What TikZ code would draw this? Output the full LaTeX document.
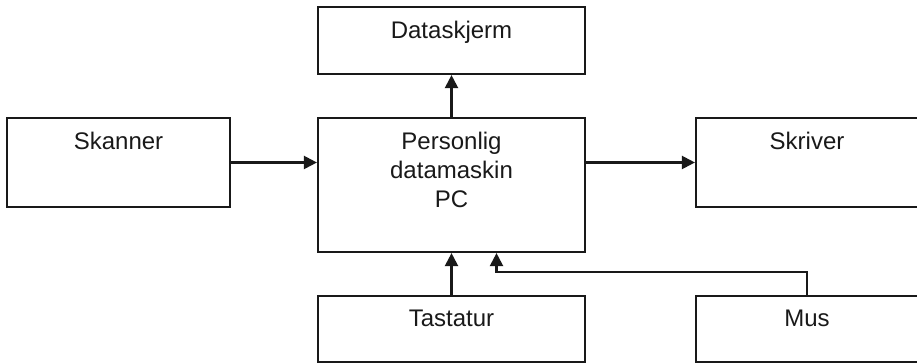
\documentclass[tikz,border=0pt]{standalone}
\usepackage{fontspec}
\setmainfont{Liberation Sans}
\usetikzlibrary{arrows.meta}

\begin{document}
\begin{tikzpicture}[x=1pt, y=1pt,
		unit/.style={draw=black!90, line width=2.2pt, minimum width=267pt, inner sep=0pt},
		unittext/.style={anchor=north, inner sep=0pt, yshift=-15pt, align=center, text=black!90,
			font=\fontsize{24}{29}\selectfont},
		link/.style={draw=black!90, line width=2.2pt, -{Triangle[length=13pt, width=13pt]}}]
		%%%%% START %%%%%
		
		\useasboundingbox (0, 0) rectangle (917, 363);
		
		\node[unit, minimum height=67pt, label={[unittext, name=skjerm-txt]north:Dataskjerm}] (skjerm) at (451.5, 322.5) {};
		\node[unit, minimum height=134pt, label={[unittext, name=pc-txt]north:Personlig\\datamaskin\\PC}] (pc) at (451.5, 178) {};
		
		\node[unit, minimum width=223pt, minimum height=89pt, label={[unittext, name=skanner-txt]north:Skanner}] (skanner) at (118.5, 200.5) {};
		\node[unit, minimum width=222pt, minimum height=89pt, label={[unittext, name=skriver-txt]north:Skriver}] (skriver) at (807, 200.5) {};
		
		\node[unit, minimum height=66pt, label={[unittext, name=tastatur-txt]north:Tastatur}] (tastatur) at (451.5, 34) {};
		\node[unit, minimum width=222pt, minimum height=66pt, label={[unittext, name=mus-txt]north:Mus}] (mus) at (807, 34) {};
		
		\draw[link] (pc) -- (skjerm);
		\draw[link] (skanner.east) -- (skanner.east -| pc.west);
		\draw[link] (pc.east |- skriver.west) -- (skriver.west);
		\draw[link] (tastatur) -- (pc);
		\draw[link] (mus.north) -- ++(0, 23) -| ([xshift=45pt]pc.south);
		
		%%%%% END %%%%%
	\end{tikzpicture}
\end{document}
